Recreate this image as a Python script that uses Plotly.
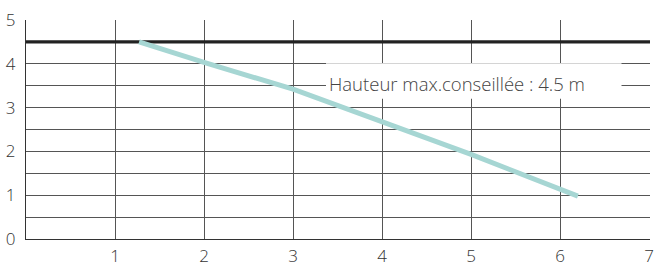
import plotly.graph_objects as go

# Data
debit = [1.27, 2, 3, 4, 5, 6.2]
hauteur = [4.5, 4.03, 3.42, 2.69, 1.93, 0.98]
hauteur_max = 4.5
label_max = "Hauteur max.conseillée : 4.5 m"
x_ticks = [1, 2, 3, 4, 5, 6, 7]
y_ticks = [0, 1, 2, 3, 4, 5]

x_max = 7.01

fig = go.Figure()

fig.add_trace(go.Scatter(
    x=[0, x_max], y=[hauteur_max, hauteur_max], mode="lines",
    line=dict(color="#222222", width=3.2), hoverinfo="skip", showlegend=False,
))
fig.add_trace(go.Scatter(
    x=debit, y=hauteur, mode="lines",
    line=dict(color="#a6d6d3", width=5), showlegend=False,
))

fig.add_shape(type="rect", xref="x", yref="y", x0=3.37, x1=6.69, y0=3.2, y1=4.015,
              fillcolor="white", line=dict(width=0), layer="between")

fig.add_annotation(x=3.38, y=3.56, xref="x", yref="y", xanchor="left", yanchor="middle",
                   text=label_max, showarrow=False,
                   font=dict(family="Open Sans", size=18.5, color="#444444", weight=300))

grid = "#555555"
tf = dict(family="Open Sans", size=17, color="#333333", weight=300)
fig.update_xaxes(range=[0, x_max], tickvals=x_ticks, ticktext=[str(v) for v in x_ticks],
                 showgrid=True, gridcolor=grid, gridwidth=1,
                 showline=True, linecolor="#333333", linewidth=1.2,
                 zeroline=False, ticks="", ticklabelstandoff=1, automargin=False,
                 ticklabeloverflow="allow", tickfont=tf)
fig.update_yaxes(range=[0, 5], tickvals=y_ticks, ticktext=[str(v) for v in y_ticks],
                 showgrid=True, gridcolor=grid, gridwidth=1,
                 minor=dict(dtick=0.5, showgrid=True, gridcolor=grid, gridwidth=1),
                 showline=True, linecolor="#333333", linewidth=1.2,
                 zeroline=False, ticks="", ticklabelstandoff=6, automargin=False,
                 ticklabeloverflow="allow", tickfont=tf)

fig.update_layout(width=654, height=265, margin=dict(l=26, r=4, t=20, b=26),
                  paper_bgcolor="white", plot_bgcolor="white")

fig.write_html("out.html", config={"displayModeBar": False},
               post_script="document.body.style.margin='0';document.body.style.overflow='hidden';")
